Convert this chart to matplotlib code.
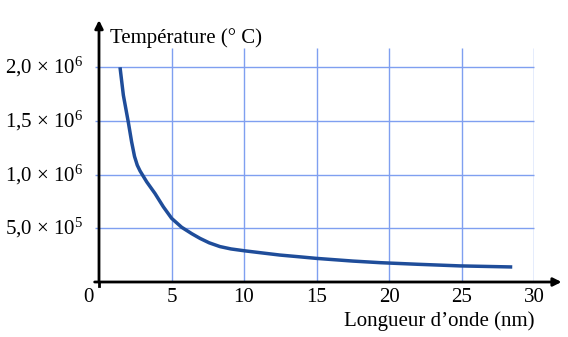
import matplotlib.pyplot as plt

plt.rcParams['font.family'] = ['Liberation Serif', 'DejaVu Serif']
plt.rcParams['mathtext.fontset'] = 'custom'
plt.rcParams['mathtext.rm'] = 'Liberation Serif'
plt.rcParams['mathtext.it'] = 'Liberation Serif:italic'

# courbe température / longueur d'onde
longueur = [1.45, 1.68, 2.02, 2.25, 2.45, 2.64, 2.83, 3.29, 3.86, 4.44, 5.01, 5.7, 6.4, 6.97,
            7.6, 8.34, 9.1, 10.07, 11.3, 12.48, 13.8, 15.0, 17.5, 19.4, 22.0, 24.9, 28.5]
temperature = [2.0e6, 1.74e6, 1.49e6, 1.305e6, 1.17e6, 1.088e6, 1.035e6, 0.933e6, 0.825e6,
               0.70e6, 0.593e6, 0.51e6, 0.45e6, 0.406e6, 0.365e6, 0.33e6, 0.308e6, 0.29e6,
               0.27e6, 0.251e6, 0.235e6, 0.22e6, 0.195e6, 0.18e6, 0.165e6, 0.15e6, 0.14e6]

x_ticks = [5, 10, 15, 20, 25, 30]
y_ticks = [5.0e5, 1.0e6, 1.5e6, 2.0e6]
y_labels = [r'5,0 × 10$^{5}$', r'1,0 × 10$^{6}$', r'1,5 × 10$^{6}$', r'2,0 × 10$^{6}$']

fig = plt.figure(figsize=(5.68, 3.37), dpi=100)
ax = fig.add_axes([99 / 568, 55 / 337, 435 / 568, 234 / 337])
ax.set_xlim(0, 30)
ax.set_ylim(0, 2.18e6)
for s in ax.spines.values():
    s.set_visible(False)
ax.set_xticks([])
ax.set_yticks([])

grid_color = '#7f9ff0'
ax.vlines(x_ticks, 0, 2.18e6, color=grid_color, lw=1, zorder=1)
ax.hlines(y_ticks, -0.3, 30, color=grid_color, lw=1, zorder=1, clip_on=False)

ax.plot(longueur, temperature, color='#1f4d9a', lw=2.5, zorder=3,
        solid_capstyle='butt', solid_joinstyle='round')

# axes avec flèches
ax.annotate('', xy=(0, 2.44e6), xytext=(0, 0), annotation_clip=False,
            arrowprops=dict(arrowstyle='-|>', color='black', lw=2,
                            mutation_scale=12, shrinkA=0, shrinkB=0))
ax.annotate('', xy=(31.9, 0), xytext=(-0.3, 0), annotation_clip=False,
            arrowprops=dict(arrowstyle='-|>', color='black', lw=2,
                            mutation_scale=12, shrinkA=0, shrinkB=0))
ax.plot([0, 0], [0, -0.04e6], color='black', lw=2, clip_on=False)

fs = 15
for x in x_ticks:
    ax.text(x, -0.06e6, str(x), ha='center', va='top', fontsize=fs)
ax.text(-0.75, -0.06e6, '0', ha='center', va='top', fontsize=fs)
for y, lab in zip(y_ticks, y_labels):
    ax.text(-1.1, y, lab, ha='right', va='center', fontsize=fs)

ax.text(0.75, 2.27e6, 'Température (° C)', ha='left', va='center', fontsize=fs)
ax.text(30.05, -0.36e6, 'Longueur d’onde (nm)', ha='right', va='center', fontsize=fs)

fig.savefig('out.png', dpi=100)
